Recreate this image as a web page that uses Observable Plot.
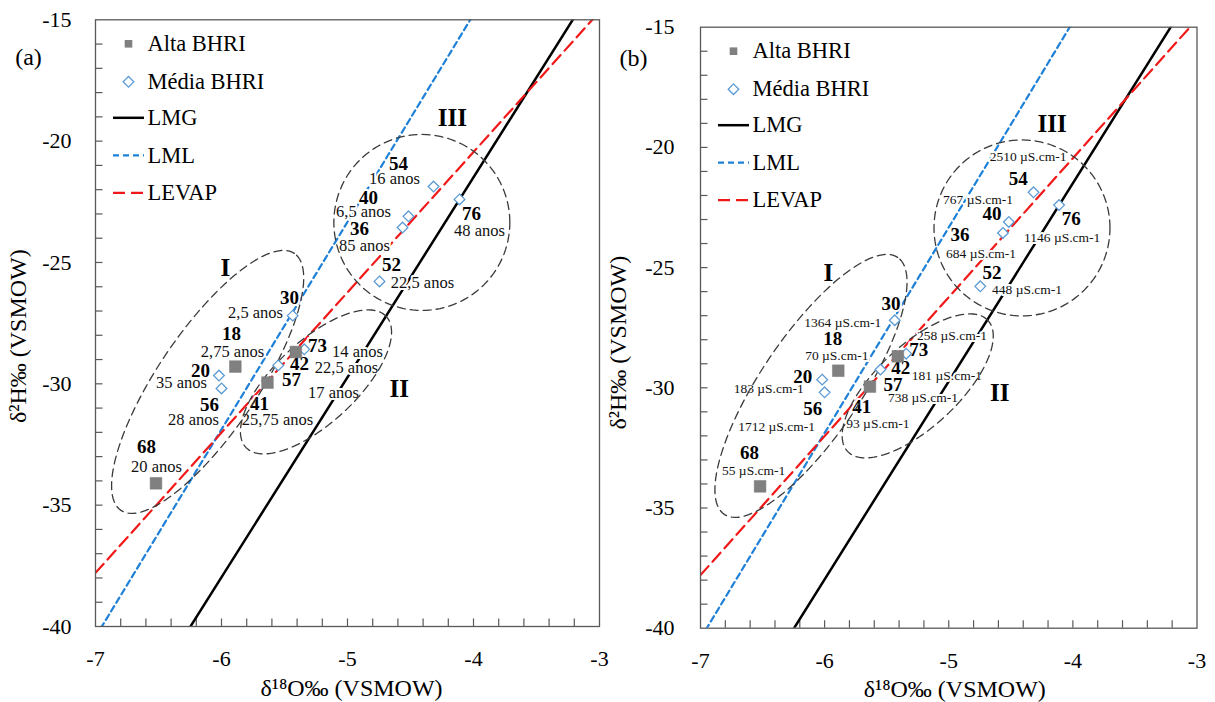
<!DOCTYPE html>
<html><head><meta charset="utf-8">
<script src="https://cdn.jsdelivr.net/npm/d3@7"></script>
<script src="https://cdn.jsdelivr.net/npm/@observablehq/plot@0.6"></script>
<style>
html,body{margin:0;padding:0;background:#fff;}
#wrap{position:relative;width:1215px;height:702px;overflow:hidden;}
#pa,#pb{position:absolute;top:0;}
#pa{left:0px;}
#pb{left:605px;}
</style></head>
<body><div id="wrap"><div id="pa"></div><div id="pb"></div></div>
<script>
// ---------- data ----------
const sites = ["68","18","57","42","20","56","30","41","73","52","36","40","54","76"];
const groups = ["Alta BHRI","Alta BHRI","Alta BHRI","Alta BHRI",
  "Média BHRI","Média BHRI","Média BHRI","Média BHRI","Média BHRI","Média BHRI","Média BHRI","Média BHRI","Média BHRI","Média BHRI"];
const d18O = [-6.52,-5.89,-5.635,-5.41,-6.02,-6.00,-5.435,-5.55,-5.343,-4.746,-4.563,-4.516,-4.317,-4.111];
const d2H  = [-34.10,-29.29,-29.95,-28.69,-29.66,-30.19,-27.19,-29.24,-28.58,-25.78,-23.56,-23.10,-21.87,-22.40];
const ages = ["20 anos","2,75 anos","17 anos","22,5 anos","35 anos","28 anos","2,5 anos","25,75 anos","14 anos","22,5 anos","85 anos","6,5 anos","16 anos","48 anos"];
const conductivity = ["55","70","738","181","183","1712","1364","93","258","448","684","767","2510","1146"];
const condUnit = " µS.cm-1";

// label anchor positions (data units) — panel (a)
const numXa = [-6.595,-5.921,-5.444,-5.381,-6.167,-6.095,-5.460,-5.698,-5.238,-4.651,-4.905,-4.833,-4.595,-4.016];
const numYa = [-32.62,-27.93,-29.82,-29.16,-29.45,-30.85,-26.44,-30.81,-28.42,-25.12,-23.60,-22.32,-20.92,-22.98];
const ageX  = [-6.516,-5.913,-5.111,-5.008,-6.317,-6.222,-5.730,-5.556,-4.921,-4.405,-4.865,-4.873,-4.627,-3.952];
const ageY  = [-33.41,-28.67,-30.36,-29.33,-29.94,-31.47,-27.06,-31.47,-28.67,-25.82,-24.30,-22.90,-21.54,-23.68];
// panel (b)
const numXb = [-6.605,-5.935,-5.450,-5.386,-6.177,-6.096,-5.466,-5.701,-5.241,-4.651,-4.910,-4.651,-4.441,-4.014];
const numYb = [-32.69,-27.95,-29.86,-29.16,-29.53,-30.86,-26.49,-30.78,-28.41,-25.20,-23.62,-22.75,-21.29,-22.96];
const condX = [-6.572,-5.902,-5.208,-5.015,-6.451,-6.387,-5.854,-5.571,-4.974,-4.369,-4.740,-4.764,-4.361,-4.086];
const condY = [-33.44,-28.66,-30.40,-29.49,-30.03,-31.61,-27.28,-31.49,-27.82,-25.91,-24.41,-22.17,-20.38,-23.75];

// reference lines δ2H = slope·δ18O + intercept
const lineNames  = ["LMG","LML","LEVAP"];
const slopes     = [8.24, 8.55, 5.78];
const intercepts = [11.47, 19.42, 2.67];

// groupings (ellipses) and roman labels
const groupNames = ["I","II","III"];
const groupCx = [-6.11,-5.25,-4.41];
const groupCy = [-29.92,-29.92,-23.35];
const groupLabelX = [-5.97,-4.59,-4.167];
const groupLabelY = [-25.22,-30.21,-19.04];

const xDomain = [-7,-3];
const yDomain = [-40,-15];
const xTicks = [-7,-6,-5,-4,-3];
const yTicks = [-40,-35,-30,-25,-20,-15];
const legendLabels = ["Alta BHRI","Média BHRI","LMG","LML","LEVAP"];

// ---------- styles ----------
const ellShape = {I:{a:155,b:50,ang:56}, II:{a:96,b:41,ang:43}, III:{a:88,b:88,ang:0}};
const lineStyle = {
  LMG:{stroke:"#000000", dash:null, w:2.5},
  LML:{stroke:"#1f80d8", dash:"6,4", w:2.2},
  LEVAP:{stroke:"#f01818", dash:"12,6", w:2.2}
};
const segSymbol = {draw(ctx){ ctx.moveTo(-15.5,0); ctx.lineTo(15.5,0); }};
const FONT = "Liberation Serif";
const TICK = 7.5;

function makePanel(cfg){
  const {width,height,mt,mr,mb,ml} = cfg;
  const fw = width-ml-mr, fh = height-mt-mb;
  const kx = fw/(xDomain[1]-xDomain[0]), ky = fh/(yDomain[1]-yDomain[0]);
  const points = sites.map((s,i)=>({site:s, group:groups[i], x:d18O[i], y:d2H[i]}));
  const nums = sites.map((s,i)=>({t:s, x:cfg.numX[i], y:cfg.numY[i]}));
  const subs = sites.map((s,i)=>({t:cfg.subText[i], x:cfg.subX[i], y:cfg.subY[i]}));
  const lineRows = lineNames.flatMap((n,i)=>xDomain.map(x=>({name:n, x, y:slopes[i]*x+intercepts[i]})));
  const ellRows = groupNames.flatMap((n,j)=>{
    const e = ellShape[n], p = e.ang*Math.PI/180;
    return d3.range(0,361,3).map(deg=>{
      const t = deg*Math.PI/180;
      const u = e.a*Math.cos(t)*Math.cos(p) - e.b*Math.sin(t)*Math.sin(p);
      const v = e.a*Math.cos(t)*Math.sin(p) + e.b*Math.sin(t)*Math.cos(p);
      return {id:n, x:groupCx[j]+u/kx, y:groupCy[j]+v/ky};
    });
  });
  const romans = groupNames.map((n,j)=>({t:n, x:groupLabelX[j], y:groupLabelY[j]}));
  const minorX = d3.range(1,20).map(i=>+(-7+i*0.2).toFixed(1));
  const minorY = d3.range(-39,-15,1);

  return Plot.plot({
    width, height, marginTop:mt, marginRight:mr, marginBottom:mb, marginLeft:ml,
    x:{domain:xDomain, label:null},
    y:{domain:yDomain, label:null},
    style:{fontFamily:FONT, fontSize:"22px", color:"#000", background:"transparent", overflow:"visible"},
    marks:[
      // inward tick marks
      Plot.ruleX(minorX,{x:d=>d, y1:yDomain[0], y2:yDomain[0]+TICK/ky, stroke:"#595959", strokeWidth:1.2}),
      Plot.ruleY(minorY,{y:d=>d, x1:xDomain[0], x2:xDomain[0]+TICK/kx, stroke:"#595959", strokeWidth:1.2}),
      // reference lines
      ...lineNames.map(n=>Plot.line(lineRows.filter(d=>d.name===n),{x:"x", y:"y", stroke:lineStyle[n].stroke,
        strokeWidth:lineStyle[n].w, strokeDasharray:lineStyle[n].dash, clip:true})),
      // labels with white halo
      Plot.text(subs,{x:"x", y:"y", text:"t", fontSize:cfg.subSize, fill:"#111", stroke:"white", strokeWidth:4, textAnchor:"middle", lineAnchor:"middle"}),
      Plot.text(nums,{x:"x", y:"y", text:"t", fontSize:19, fontWeight:"bold", fill:"#000", stroke:"white", strokeWidth:4, textAnchor:"middle", lineAnchor:"middle"}),
      Plot.text(romans,{x:"x", y:"y", text:"t", fontSize:25, fontWeight:"bold", fill:"#000", lineAnchor:"middle"}),
      // ellipses
      Plot.line(ellRows,{x:"x", y:"y", z:"id", stroke:"#3a3a3a", strokeWidth:1.3, strokeDasharray:"8,5", curve:"linear-closed"}),
      // points
      Plot.dot(points.filter(d=>d.group==="Média BHRI"),{x:"x", y:"y", symbol:"diamond2", r:4.8, stroke:"#5B9BD5", fill:"white", strokeWidth:1.3}),
      Plot.dot(points.filter(d=>d.group==="Alta BHRI"),{x:"x", y:"y", symbol:"square", r:6.6, fill:"#808080", stroke:"#777", strokeWidth:0.5}),
      // legend
      Plot.dot([0],{frameAnchor:"top-left", dx:33, dy:24, symbol:"square", r:4.3, fill:"#808080"}),
      Plot.dot([0],{frameAnchor:"top-left", dx:33, dy:62, symbol:"diamond2", r:4.8, stroke:"#5B9BD5", fill:"white", strokeWidth:1.3}),
      ...lineNames.map((n,i)=>Plot.dot([0],{frameAnchor:"top-left", dx:33, dy:98+37.5*i, symbol:segSymbol, r:5,
        fill:"none", stroke:lineStyle[n].stroke, strokeWidth:lineStyle[n].w, strokeDasharray:lineStyle[n].dash})),
      ...legendLabels.map((t,i)=>Plot.text([t],{frameAnchor:"top-left", dx:52, dy:[24,62,98,135.5,173][i],
        textAnchor:"start", lineAnchor:"middle", fontSize:22.5, fill:"#000"})),
      // panel letter and axis titles
      Plot.text([cfg.letter],{frameAnchor:"top-left", dx:cfg.letterDx, dy:cfg.letterDy, fontSize:24, textAnchor:"middle", lineAnchor:"middle"}),
      Plot.text(["δ²H‰ (VSMOW)"],{frameAnchor:"left", dx:cfg.yTitleDx, dy:cfg.yTitleDy, rotate:-90, fontSize:24, textAnchor:"middle", lineAnchor:"middle"}),
      Plot.text(["δ¹⁸O‰ (VSMOW)"],{frameAnchor:"bottom", dx:cfg.xTitleDx, dy:cfg.xTitleDy, fontSize:24, textAnchor:"middle", lineAnchor:"middle"}),
      // axis labels
      Plot.axisX(xTicks,{tickSize:0, tickPadding:24, tickFormat:d=>String(d), fontSize:22, label:null}),
      Plot.axisY(yTicks,{tickSize:0, tickPadding:cfg.yPad, tickFormat:d=>String(d), fontSize:22, label:null}),
      Plot.frame({stroke:"#595959", strokeWidth:1.3})
    ]
  });
}

document.getElementById("pa").append(makePanel({
  width:605, height:702, mt:19.3, mr:6, mb:76, ml:95,
  letter:"(a)", letterDx:-67, letterDy:38, yTitleDx:-77, yTitleDy:13, xTitleDx:4, xTitleDy:62, yPad:24,
  numX:numXa, numY:numYa, subX:ageX, subY:ageY, subText:ages, subSize:16.5
}));
document.getElementById("pb").append(makePanel({
  width:610, height:702, mt:26.7, mr:18.5, mb:74.3, ml:95,
  letter:"(b)", letterDx:-67, letterDy:31, yTitleDx:-82, yTitleDy:15, xTitleDx:6, xTitleDy:61, yPad:26,
  numX:numXb, numY:numYb, subX:condX, subY:condY, subText:conductivity.map(c=>c+condUnit), subSize:13.5
}));
</script>
</body></html>
